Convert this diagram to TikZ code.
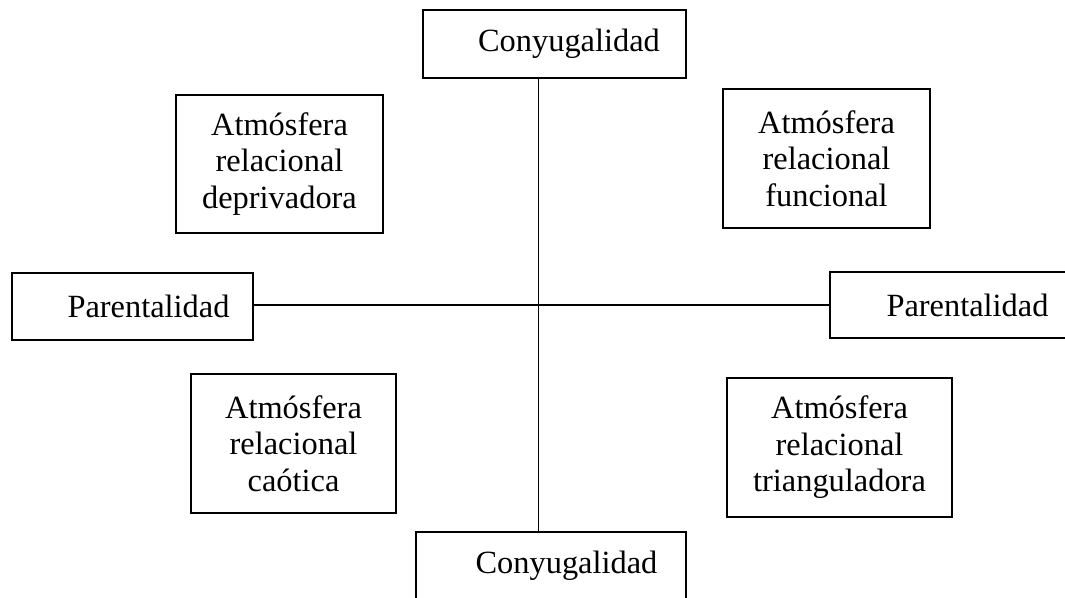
\documentclass[tikz,border=0pt]{standalone}
\usepackage{fontspec}
\setmainfont{Liberation Serif}
\begin{document}
\begin{tikzpicture}[x=0.75pt,y=-0.75pt,
  boxshape/.style={draw=black,line width=1.1pt,inner sep=0pt,rectangle},
  lbl/.style={inner sep=0pt,align=center,font=\fontsize{24.3}{27.4}\selectfont},
  conn/.style={draw=black,line width=1.4pt}]
\clip (0,0) rectangle (1065,597);
\useasboundingbox (0,0) rectangle (1065,597);
% boxes
\node[boxshape,minimum width=197.25pt,minimum height=51pt] (top) at (554.5,44) {};
\node[boxshape,minimum width=202.5pt,minimum height=51pt] (bot) at (551,566) {};
\node[boxshape,minimum width=180.75pt,minimum height=50.25pt] (left) at (132.5,306.5) {};
\node[boxshape,minimum width=183.75pt,minimum height=49.5pt] (right) at (952.5,305) {};
\node[boxshape,minimum width=155.25pt,minimum height=103.5pt] (dep) at (279.5,164) {};
\node[boxshape,minimum width=155.25pt,minimum height=104.25pt] (fun) at (826.5,158.5) {};
\node[boxshape,minimum width=153.75pt,minimum height=104.25pt] (cao) at (293.5,443.5) {};
\node[boxshape,minimum width=168.75pt,minimum height=104.25pt] (tri) at (839.5,447.5) {};
% texts
\node[lbl] (topt) at (569,44) {Conyugalidad};
\node[lbl] (bott) at (566.5,566) {Conyugalidad};
\node[lbl] (leftt) at (148.5,306.5) {Parentalidad};
\node[lbl] (rightt) at (967.5,305) {Parentalidad};
\node[lbl] (dept) at (dep.center) {Atmósfera\\relacional\\deprivadora};
\node[lbl] (funt) at (fun.center) {Atmósfera\\relacional\\funcional};
\node[lbl] (caot) at (cao.center) {Atmósfera\\relacional\\caótica};
\node[lbl] (trit) at (tri.center) {Atmósfera\\relacional\\trianguladora};
% axes
\coordinate (cx) at (538.5,305);
\draw[conn] (top.south -| cx) -- (bot.north -| cx);
\draw[conn] (left.east |- cx) -- (right.west |- cx);
\end{tikzpicture}
\end{document}
